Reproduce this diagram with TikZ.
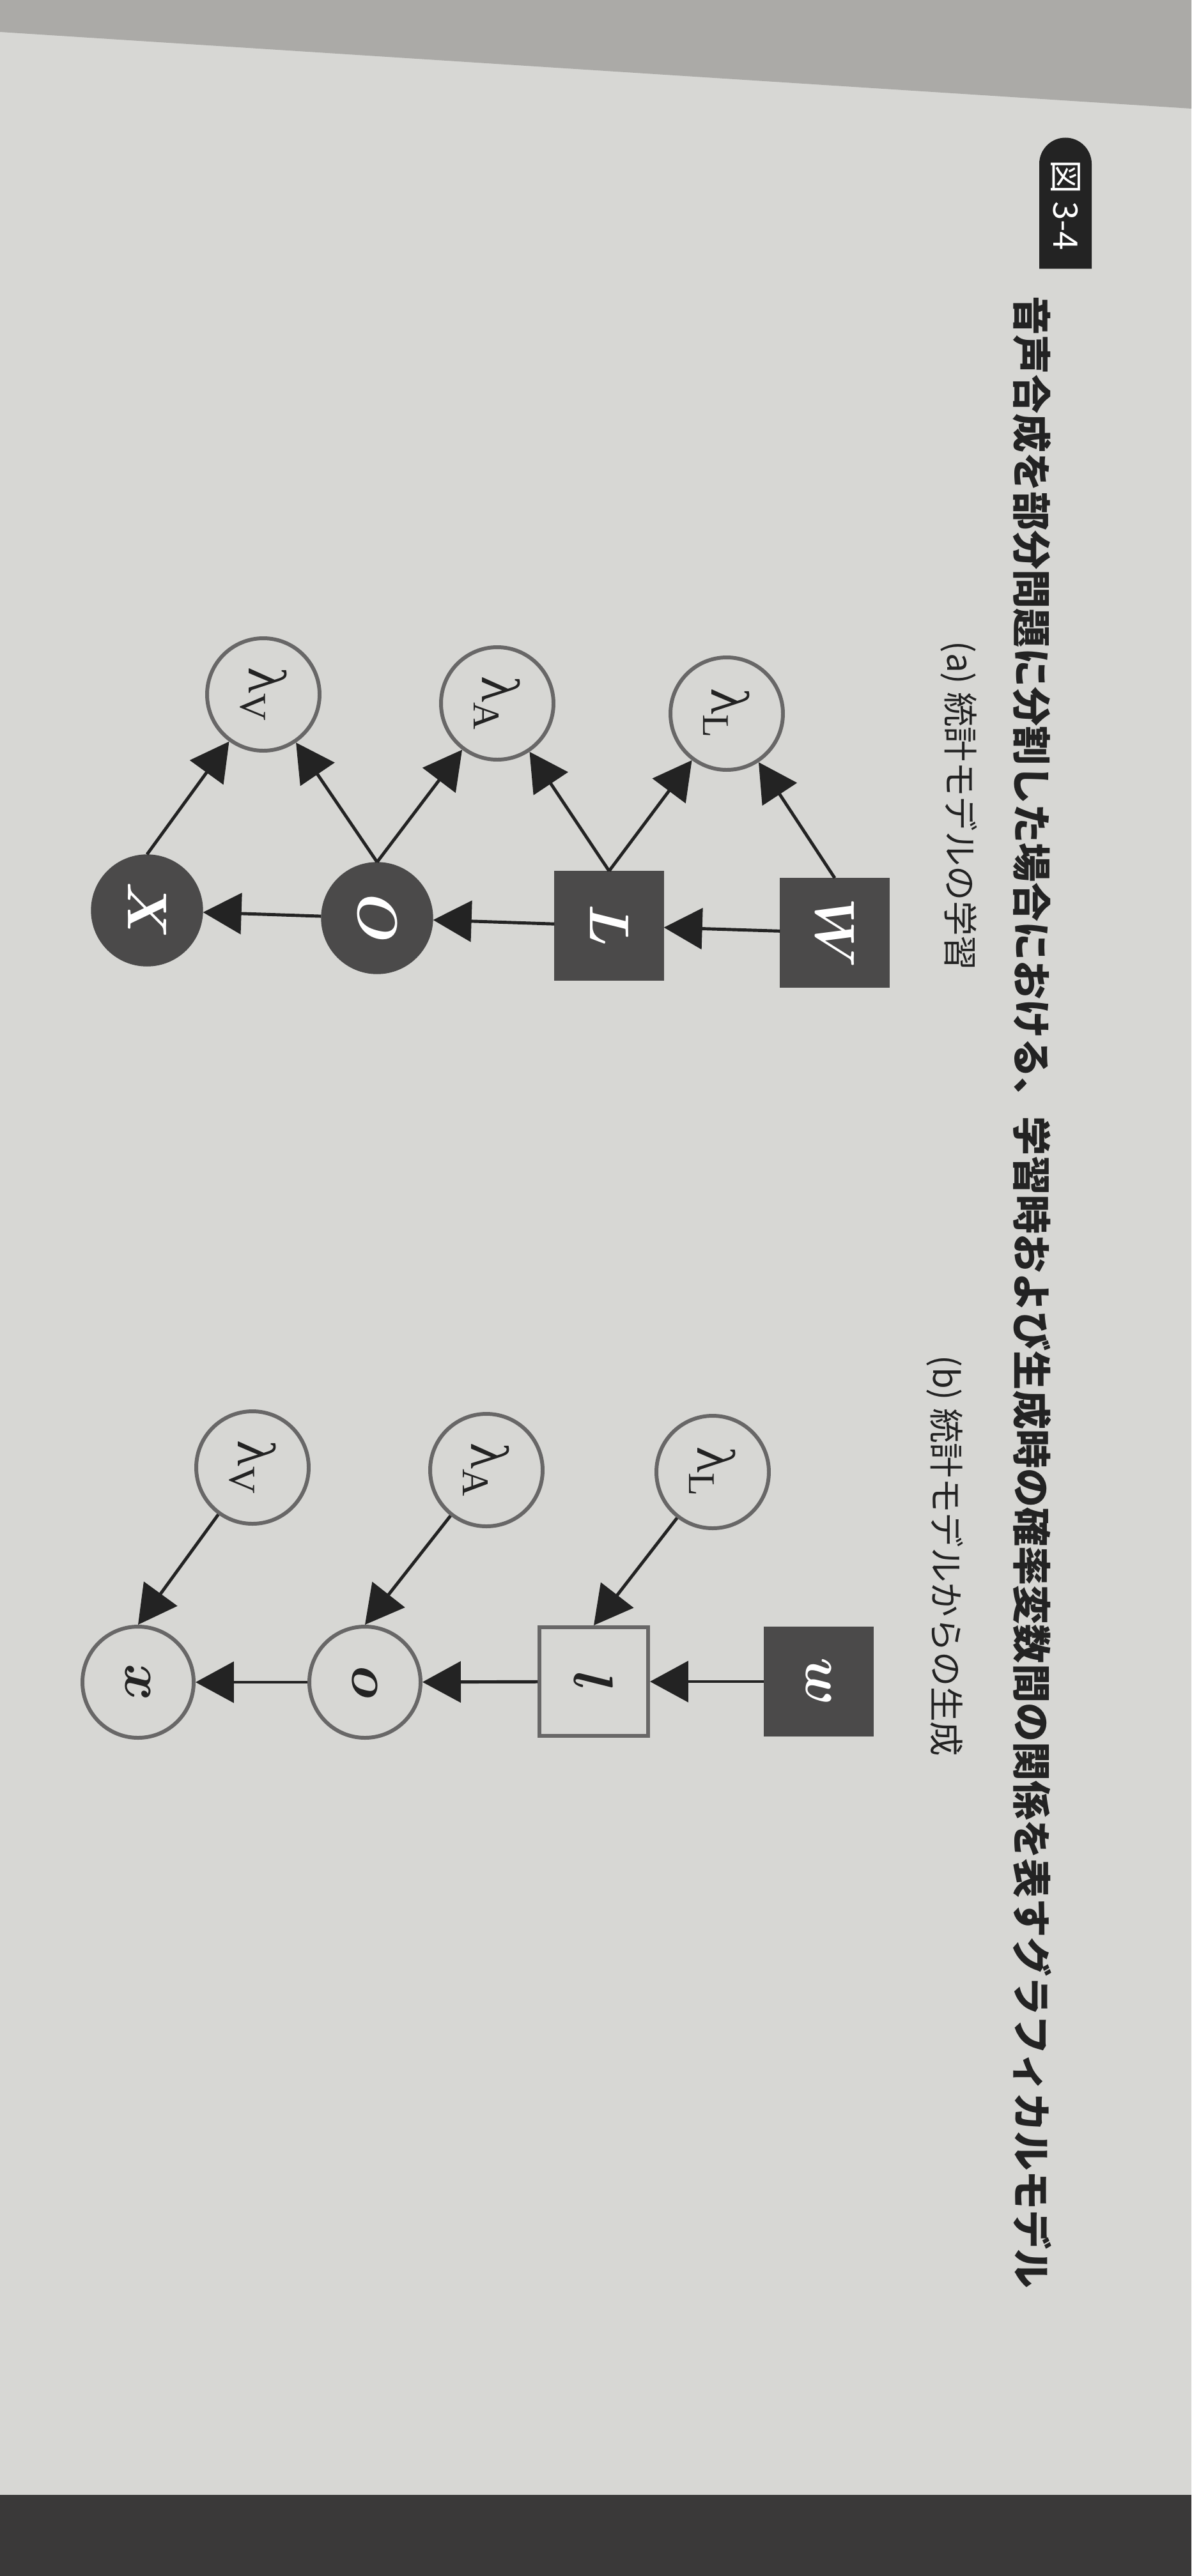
\documentclass[tikz,border=0pt]{standalone}
\usepackage{fontspec}
\usepackage{bm}
\newfontfamily\jpfont{Noto Sans CJK JP}
\newfontfamily\grkfont{Liberation Serif}
\usetikzlibrary{arrows.meta, shapes.misc}
\definecolor{paper}{HTML}{D7D7D4}
\definecolor{bandgray}{HTML}{ABAAA7}
\definecolor{desk}{HTML}{3A3939}
\definecolor{ink}{HTML}{4B4A4A}
\definecolor{ring}{HTML}{686767}
\definecolor{edgecol}{HTML}{232323}

\begin{document}
\begin{tikzpicture}[
                rotate=-90, transform shape,
                >={Triangle[length=0.6cm, width=0.64cm]},
                obs/.style={rectangle, fill=ink, draw=ink, minimum size=1.70cm, inner sep=0pt, text=white, font=\fontsize{26}{26}\selectfont},
                obsround/.style={obs, circle, minimum size=1.74cm},
                hid/.style={rectangle, draw=ring, line width=1.7pt, fill=paper, minimum size=1.70cm, inner sep=0pt, text=edgecol, font=\fontsize{26}{26}\selectfont},
                hidround/.style={hid, circle, minimum size=1.74cm},
                param/.style={hidround, minimum size=1.76cm, font=\grkfont\fontsize{24}{24}\selectfont},
                link/.style={->, line width=1.4pt, draw=edgecol},
                headtext/.style={text=edgecol, inner sep=0pt, font=\jpfont\fontsize{15.5}{15.5}\selectfont},
                titletext/.style={text=edgecol, inner sep=0pt, font=\jpfont\bfseries\fontsize{17.4}{17.4}\selectfont},
                badge/.style={rounded rectangle, rounded rectangle east arc=none, fill=edgecol, text=white, minimum width=2.05cm, minimum height=0.82cm, inner sep=0pt, font=\jpfont\fontsize{15}{15}\selectfont}
            ]
                \fill[paper] (0,0) rectangle (40.32,18.64);
                \fill[bandgray] (0,0) -- (0,18.64) -- (1.7,18.64) -- (0.5,0) -- cycle;
                \fill[desk] (39.05,0) rectangle (40.32,18.64);
                \useasboundingbox (0,0) rectangle (40.32,18.64);

                \node[badge] (fig) at (3.215,16.67) {図 3-4};
                \node[titletext, anchor=west] (title) at (4.63,16.15) {音声合成を部分問題に分割した場合における、学習時および生成時の確率変数間の関係を表すグラフィカルモデル};
                \node[headtext, anchor=west] (capA) at (10.03,15.0) {(a)\ 統計モデルの学習};
                \node[headtext, anchor=west] (capB) at (21.21,14.78) {(b)\ 統計モデルからの生成};

                \node[obs] (Wa) at (14.60,13.06) {$\bm{W}$};
                \node[obs] (La) at (14.49,9.53) {$\bm{L}$};
                \node[obsround] (Oa) at (14.37,5.90) {$\bm{O}$};
                \node[obsround] (Xa) at (14.25,2.30) {$\bm{X}$};
                \node[param] (lLa) at (11.17,11.37) {λ\textsubscript{L}};
                \node[param] (lAa) at (11.01,7.78) {λ\textsubscript{A}};
                \node[param] (lVa) at (10.87,4.12) {λ\textsubscript{V}};

                \node[obs] (wb) at (26.32,12.81) {$\bm{w}$};
                \node[hid] (lb) at (26.32,9.29) {$\bm{l}$};
                \node[hidround] (ob) at (26.33,5.71) {$\bm{o}$};
                \node[hidround] (xb) at (26.33,2.16) {$\bm{x}$};
                \node[param] (lLb) at (23.04,11.15) {λ\textsubscript{L}};
                \node[param] (lAb) at (23.01,7.61) {λ\textsubscript{A}};
                \node[param] (lVb) at (22.97,3.95) {λ\textsubscript{V}};

                \draw[link] (Wa) -- (La);
                \draw[link] (La) -- (Oa);
                \draw[link] (Oa) -- (Xa);
                \draw[link] (Wa.west) -- (lLa);
                \draw[link] (La.west) -- (lLa);
                \draw[link] (La.west) -- (lAa);
                \draw[link] (Oa.west) -- (lAa);
                \draw[link] (Oa.west) -- (lVa);
                \draw[link] (Xa.west) -- (lVa);

                \draw[link] (wb) -- (lb);
                \draw[link] (lb) -- (ob);
                \draw[link] (ob) -- (xb);
                \draw[link] (lLb) -- (lb.west);
                \draw[link] (lAb) -- (ob.west);
                \draw[link] (lVb) -- (xb.west);
            \end{tikzpicture}
\end{document}
